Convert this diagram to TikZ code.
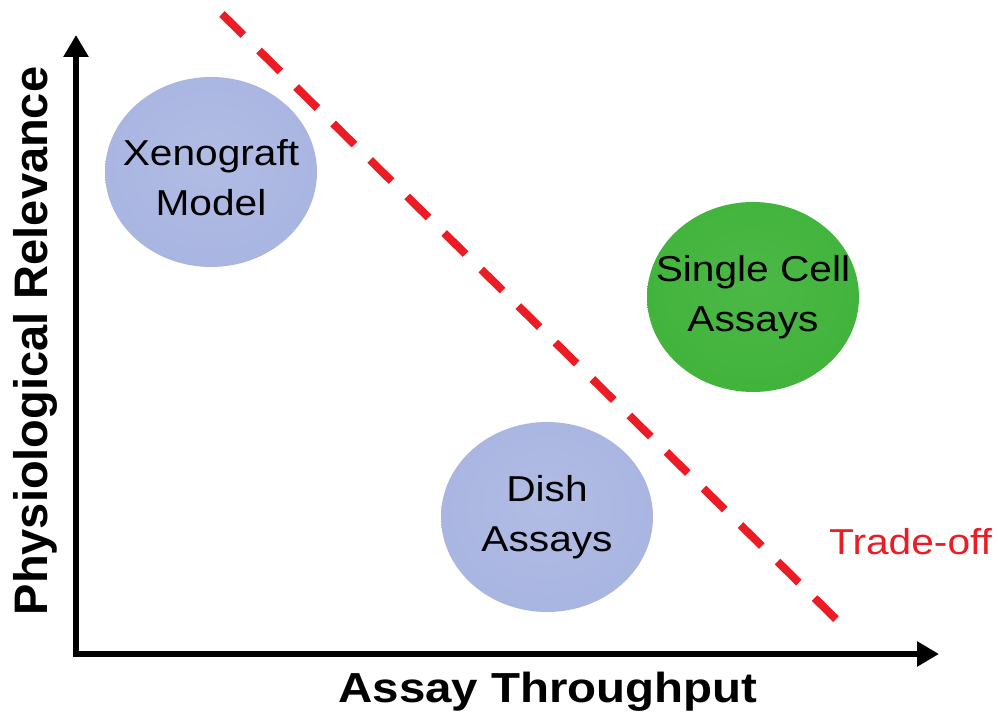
\documentclass[tikz,border=0pt]{standalone}
\usepackage{fontspec}
\setmainfont{Liberation Sans}
\newfontfamily\widesans[FakeStretch=1.13]{Liberation Sans}
\usetikzlibrary{arrows.meta,shapes.geometric}
\definecolor{discblue}{RGB}{160,174,222}
\definecolor{discgreen}{RGB}{56,176,50}
\definecolor{tradered}{RGB}{236,28,36}
\pgfdeclareradialshading{bluedisc}{\pgfpoint{0bp}{4bp}}{color(0bp)=(discblue!82!white); color(30bp)=(discblue!92!white); color(46bp)=(discblue); color(50bp)=(discblue!88!black)}
\pgfdeclareradialshading{greendisc}{\pgfpoint{0bp}{4bp}}{color(0bp)=(discgreen!90!white); color(30bp)=(discgreen!96!white); color(46bp)=(discgreen); color(50bp)=(discgreen!85!black)}
\begin{document}
\begin{tikzpicture}[x=1pt, y=1pt, >={Triangle[length=22pt,width=24pt]},
	disc/.style={ellipse, minimum width=212pt, minimum height=190pt, inner sep=0pt},
	disctext/.style={align=center, inner sep=0pt, font=\widesans\fontsize{36}{50}\selectfont}]
	\useasboundingbox (0,0) rectangle (998,719);
	\coordinate (O) at (76,65);
	\coordinate (ytip) at (76,684);
	\coordinate (xtip) at (939,65);
	\draw[line width=6pt, <->] (ytip)--(O)--(xtip);
	\coordinate (tstart) at (222,705);
	\coordinate (tend) at (846,90);
	\draw[tradered, line width=8pt, dash pattern=on 30pt off 22pt] (tstart)--(tend);
	\node [disc, shading=bluedisc, label={[disctext, yshift=-6pt]center:{Xenograft\\Model}}] (xeno) at (211,547) {};
	\node [disc, shading=greendisc, label={[disctext]center:{Single Cell\\Assays}}] (single) at (753,422) {};
	\node [disc, shading=bluedisc, label={[disctext]center:{Dish\\Assays}}] (dish) at (547,202) {};
	\node [anchor=base, inner sep=0pt, font=\widesans\bfseries\fontsize{42}{50}\selectfont] (xlabel) at (548,16) {Assay Throughput};
	\node [anchor=base, inner sep=0pt, rotate=90, font=\bfseries\fontsize{47}{56}\selectfont] (ylabel) at (47,378) {Physiological Relevance};
	\node [anchor=base west, inner sep=0pt, tradered, font=\widesans\fontsize{36}{44}\selectfont] (tradeoff) at (829,164) {Trade-off};
\end{tikzpicture}
\end{document}
